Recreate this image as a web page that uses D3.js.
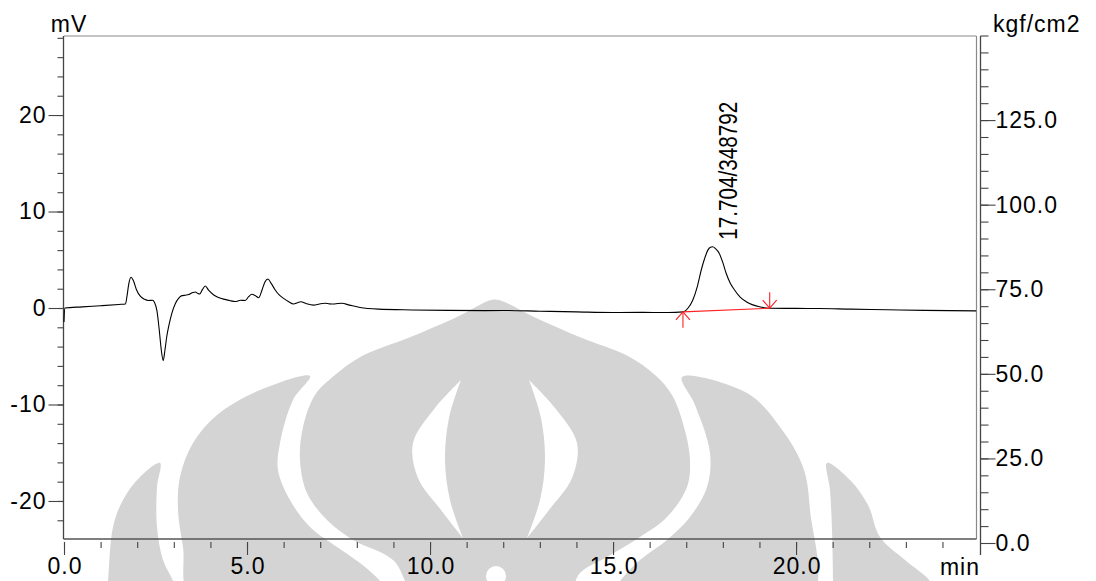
<!DOCTYPE html>
<html><head><meta charset="utf-8">
<script src="https://cdn.jsdelivr.net/npm/d3@7"></script>
<style>
body{margin:0;background:#fff}
svg{display:block}
text{font-family:"Liberation Sans",Arial,sans-serif;fill:#000}
</style>
</head><body><svg id="c" width="1096" height="581"></svg>
<script>
// ---- data ----
const timeMin = [0,0.02,0.5,1.0,1.5,1.68,1.72,1.77,1.83,1.9,1.98,2.09,2.2,2.31,2.42,2.47,2.54,2.6,2.66,2.71,2.76,2.81,2.86,2.95,3.04,3.13,3.22,3.32,3.41,3.52,3.59,3.66,3.71,3.78,3.86,3.95,4.09,4.22,4.36,4.52,4.68,4.82,4.95,5.05,5.13,5.22,5.32,5.41,5.49,5.57,5.66,5.77,5.88,6.0,6.14,6.27,6.38,6.47,6.62,6.82,6.98,7.13,7.25,7.36,7.48,7.59,7.8,8.09,8.59,9.5,10.5,11.5,12.0,13.0,14.0,15.0,15.73,16.5,16.91,17.05,17.18,17.3,17.41,17.5,17.59,17.66,17.72,17.8,17.9,18.0,18.09,18.2,18.32,18.48,18.64,18.8,19.0,19.28,20.0,20.64,21.5,22.5,23.5,24.92];
const signalMV = [-1.45,0.0,0.12,0.24,0.37,0.42,1.2,2.5,3.18,2.8,1.9,1.2,0.9,0.78,0.8,0.6,-0.3,-2.2,-4.4,-5.45,-4.3,-2.9,-1.9,-0.5,0.45,1.0,1.28,1.33,1.4,1.6,1.66,1.5,1.45,1.9,2.28,1.85,1.35,1.1,0.92,0.78,0.67,0.8,0.78,1.2,1.42,1.3,1.07,1.87,2.7,3.0,2.55,1.87,1.35,1.0,0.65,0.42,0.55,0.65,0.45,0.3,0.42,0.49,0.43,0.41,0.47,0.49,0.3,0.05,-0.12,-0.2,-0.25,-0.27,-0.26,-0.33,-0.4,-0.46,-0.45,-0.47,-0.4,0.0,0.83,2.2,3.94,5.1,6.0,6.3,6.35,6.15,5.67,4.7,3.6,2.6,1.87,1.1,0.65,0.35,0.13,-0.02,-0.04,-0.05,-0.12,-0.18,-0.25,-0.3];
const peakTimes = [17.704];
const peakHeights = [6.35];
const peakLabels = ["17.704/348792"];
const integTimes = [16.91, 19.28];
const integValues = [-0.40, -0.02];
const xMajorTicks = [0,5,10,15,20];
const xTickLabels = ["0.0","5.0","10.0","15.0","20.0"];
const yLeftMajor = [-20,-10,0,10,20];
const yLeftLabels = ["-20","-10","0","10","20"];
const yRightMajor = [0,25,50,75,100,125];
const yRightLabels = ["0.0","25.0","50.0","75.0","100.0","125.0"];

// ---- layout ----
const svg = d3.select("#c");
const L = 64, R = 976.5, T = 36, B = 539;
const x = d3.scaleLinear().domain([0, 24.93]).range([L, R]);
const yL = d3.scaleLinear().domain([-23.94, 28.19]).range([B, T]);
const yR = d3.scaleLinear().domain([0, 150]).range([543, 35.5]);

// ---- watermark (decorative background logo) ----
const wmGrey = [
  [[106,600],[108,581],[113,527],[123,500],[140,477],[160,463],[157,487],[157,527],[163,560],[173,581],[178,600]],
  [[940,600],[930,581],[905,560],[880,537],[868,505],[850,480],[827,463],[830,490],[832,530],[833,581],[833,600]],
  [[192,600],[183,547],[178,510],[180,477],[193,443],[217,415],[260,390],[310,376],[293,400],[280,443],[278,470],[290,500],[310,527],[337,547],[360,563],[380,581],[392,600]],
  [[810,600],[810,510],[803,467],[780,427],[747,393],[682,377],[695,405],[710,453],[707,487],[690,517],[667,540],[640,560],[620,581],[608,600]],
  [[420,600],[393,560],[353,540],[327,520],[307,493],[300,460],[303,427],[315,395],[335,375],[362,356],[408,338],[455,318],[491,300],[499,300],[536,318],[582,338],[628,356],[655,375],[672,395],[684,427],[690,460],[687,487],[667,517],[640,537],[607,557],[580,573],[565,600]]
];
// white crescents: outer edge (top to bottom) and inner edge (bottom to top)
const wmWhiteOuter = [
  [[461,380],[435,408],[413,443],[418,478],[441,510],[463,538]],
  [[529,380],[555,408],[577,443],[572,478],[549,510],[527,538]]
];
const wmWhiteInner = [
  [[463,538],[450,500],[445,460],[449,418],[461,380]],
  [[527,538],[540,500],[545,460],[541,418],[529,380]]
];
const wm = svg.append("g");
const poly = d3.line().curve(d3.curveCatmullRomClosed.alpha(0.5));
wm.selectAll("path.g").data(wmGrey).join("path").attr("d", poly).attr("fill", "#d4d4d4");
const open = d3.line().curve(d3.curveCatmullRom.alpha(0.5));
wmWhiteOuter.forEach((o, i) => {
  const d = open(o) + open(wmWhiteInner[i]).replace(/^M/, "L") + "Z";
  wm.append("path").attr("d", d).attr("fill", "#fff");
});
wm.append("circle").attr("cx", 496).attr("cy", 576).attr("r", 10).attr("fill", "#fff");

// ---- frame ----
svg.append("line").attr("x1", L).attr("x2", R).attr("y1", T).attr("y2", T).attr("stroke", "#8a8a8a").attr("stroke-width", 1.2);
svg.append("line").attr("x1", R).attr("x2", R).attr("y1", T).attr("y2", B).attr("stroke", "#8a8a8a").attr("stroke-width", 1.2);
svg.append("line").attr("x1", L - 0.5).attr("x2", R).attr("y1", B).attr("y2", B).attr("stroke", "#555").attr("stroke-width", 1.3);
svg.append("line").attr("x1", L - 0.5).attr("x2", L - 0.5).attr("y1", T).attr("y2", B).attr("stroke", "#444").attr("stroke-width", 1.3);

const fontStyle = s => s.attr("font-size", "23px").attr("letter-spacing", "1px")
  .attr("font-family", "'Liberation Sans', Arial, sans-serif").attr("fill", "#000");

// left axis
const gLm = svg.append("g").attr("transform", `translate(${L - 0.5},0)`)
  .call(d3.axisLeft(yL).tickValues(d3.range(-22, 29, 2)).tickSize(6).tickFormat(""));
gLm.select(".domain").remove();
const gL = svg.append("g").attr("transform", `translate(${L - 0.5},0)`)
  .call(d3.axisLeft(yL).tickValues(yLeftMajor).tickSize(15).tickPadding(2)
    .tickFormat((d, i) => yLeftLabels[i]));
gL.select(".domain").remove();
gL.selectAll("text").call(fontStyle);

// bottom axis
const gBm = svg.append("g").attr("transform", `translate(0,${B + 3})`)
  .call(d3.axisBottom(x).tickValues(d3.range(0, 25, 1)).tickSize(6).tickFormat(""));
gBm.select(".domain").remove();
const gB = svg.append("g").attr("transform", `translate(0,${B + 3})`)
  .call(d3.axisBottom(x).tickValues(xMajorTicks).tickSize(13).tickPadding(3)
    .tickFormat((d, i) => xTickLabels[i]));
gB.select(".domain").remove();
gB.selectAll("text").call(fontStyle).attr("dx", "0.5px");

// right axis
const RX = 980.5;
svg.append("line").attr("x1", RX).attr("x2", RX).attr("y1", T).attr("y2", 555).attr("stroke", "#444").attr("stroke-width", 1.3);
const gRm = svg.append("g").attr("transform", `translate(${RX},0)`)
  .call(d3.axisRight(yR).tickValues(d3.range(5, 151, 5)).tickSize(8).tickFormat(""));
gRm.select(".domain").remove();
const gR = svg.append("g").attr("transform", `translate(${RX},0)`)
  .call(d3.axisRight(yR).tickValues(yRightMajor).tickSize(15).tickPadding(0)
    .tickFormat((d, i) => yRightLabels[i]));
gR.select(".domain").remove();
gR.selectAll("text").call(fontStyle);
svg.selectAll("g.tick line").attr("stroke", "#444").attr("stroke-width", 1.1);

// unit labels
svg.append("text").attr("x", 69).attr("y", 31.5).attr("text-anchor", "middle").text("mV").call(fontStyle);
svg.append("text").attr("x", 993).attr("y", 31.5).text("kgf/cm2").call(fontStyle);
svg.append("text").attr("x", 980).attr("y", 575).attr("text-anchor", "end").text("min").call(fontStyle);

// ---- signal ----
const pts = timeMin.map((t, i) => [t, signalMV[i]]);
svg.append("path").datum(pts)
  .attr("d", d3.line().x(d => x(d[0])).y(d => yL(d[1])).curve(d3.curveMonotoneX))
  .attr("fill", "none").attr("stroke", "#000").attr("stroke-width", 1.1);

// ---- integration baseline and markers ----
const red = "#ff2020";
svg.append("line")
  .attr("x1", x(integTimes[0])).attr("y1", yL(integValues[0]))
  .attr("x2", x(integTimes[1])).attr("y2", yL(integValues[1]))
  .attr("stroke", red).attr("stroke-width", 1.1);
integTimes.forEach((t, i) => {
  const px = x(t), py = yL(integValues[i]);
  const dir = i === 0 ? 1 : -1;
  const g = svg.append("g").attr("stroke", red).attr("stroke-width", 1.1).attr("fill", "none");
  g.append("line").attr("x1", px).attr("x2", px).attr("y1", py).attr("y2", py + dir * 16);
  g.append("path").attr("d", `M${px - 7},${py + dir * 8}L${px},${py}L${px + 7},${py + dir * 8}`);
});

// ---- peak label ----
peakTimes.forEach((t, i) => {
  svg.append("text")
    .attr("transform", `translate(${x(t) + 25},${yL(peakHeights[i]) - 7}) rotate(-90)`)
    .attr("font-size", "25px").attr("textLength", 138).attr("lengthAdjust", "spacingAndGlyphs")
    .attr("font-family", "'Liberation Sans', Arial, sans-serif")
    .text(peakLabels[i]);
});
</script>
</body></html>
